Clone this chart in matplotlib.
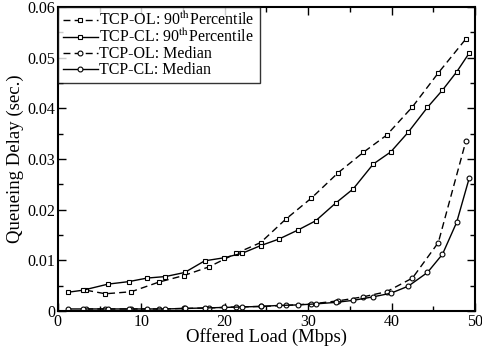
import matplotlib
matplotlib.use("Agg")
import matplotlib.pyplot as plt
from matplotlib.ticker import MultipleLocator, FuncFormatter

plt.rcParams['font.family'] = ['Liberation Serif', 'DejaVu Serif']
plt.rcParams['mathtext.fontset'] = 'stix'

# TCP-OL x positions
x_ol = [3.4, 5.7, 8.8, 12.1, 15.1, 18.1, 21.4, 24.3, 27.3, 30.4, 33.6, 36.6, 39.4, 42.5, 45.6, 48.9]
ol_90 = [0.0041, 0.0034, 0.0038, 0.0057, 0.0070, 0.0087, 0.0114, 0.0135, 0.0181, 0.0223, 0.0273, 0.0313, 0.0347, 0.0403, 0.0470, 0.0537]
ol_med = [0.0004, 0.0004, 0.0004, 0.0004, 0.0005, 0.0006, 0.0008, 0.0009, 0.0011, 0.0014, 0.0020, 0.0028, 0.0038, 0.0065, 0.0135, 0.0335]

# TCP-CL x positions
x_cl = [1.2, 3.0, 6.0, 8.5, 10.7, 12.9, 15.2, 17.6, 19.9, 22.1, 24.3, 26.5, 28.8, 30.9, 33.3, 35.4, 37.8, 39.9, 42.0, 44.3, 46.1, 47.8, 49.3]
cl_90 = [0.0037, 0.0041, 0.0053, 0.0058, 0.0065, 0.0068, 0.0076, 0.0099, 0.0105, 0.0114, 0.0129, 0.0142, 0.0160, 0.0178, 0.0213, 0.0241, 0.0290, 0.0314, 0.0353, 0.0402, 0.0436, 0.0472, 0.0509]
cl_med = [0.0004, 0.0004, 0.0004, 0.0004, 0.0004, 0.0004, 0.0005, 0.0006, 0.0007, 0.0008, 0.0009, 0.0011, 0.0012, 0.0014, 0.0017, 0.0021, 0.0028, 0.0035, 0.0049, 0.0076, 0.0112, 0.0175, 0.0262]

labels = [r"TCP-OL: 90$^{\rm th}$Percentile", r"TCP-CL: 90$^{\rm th}$Percentile",
          "TCP-OL: Median", "TCP-CL: Median"]

fig = plt.figure(figsize=(4.82, 3.53), dpi=100)
ax = fig.add_axes([0.120, 0.119, 0.8655, 0.861])

mk = dict(markersize=3.5, markerfacecolor='white', markeredgecolor='black', markeredgewidth=0.8, color='black', linewidth=1.0)
ax.plot(x_ol, ol_90, linestyle=(0, (5, 3)), marker='s', label=labels[0], **mk)
ax.plot(x_cl, cl_90, linestyle='-', marker='s', label=labels[1], **mk)
ax.plot(x_ol, ol_med, linestyle=(0, (5, 3)), marker='o', label=labels[2], **mk)
ax.plot(x_cl, cl_med, linestyle='-', marker='o', label=labels[3], **mk)

ax.set_xlim(0, 50)
ax.set_ylim(0, 0.06)
ax.xaxis.set_major_locator(MultipleLocator(10))
ax.xaxis.set_minor_locator(MultipleLocator(5))
ax.yaxis.set_major_locator(MultipleLocator(0.01))
ax.yaxis.set_minor_locator(MultipleLocator(0.005))
ax.yaxis.set_major_formatter(FuncFormatter(lambda v, p: "0" if abs(v) < 1e-12 else f"{v:.2f}"))
ax.tick_params(which='both', direction='in', top=True, right=True, labelsize=11.5, width=1.0)
ax.tick_params(which='major', length=6, pad=2)
ax.tick_params(which='minor', length=3.5)
for s in ax.spines.values():
    s.set_linewidth(1.5)

ax.set_xlabel("Offered Load (Mbps)", fontsize=13.5, labelpad=-1)
ax.set_ylabel("Queueing Delay (sec.)", fontsize=13.5, labelpad=2)

leg = ax.legend(loc='upper left', fontsize=11.5, frameon=True, fancybox=False,
                edgecolor='black', borderaxespad=0, handlelength=2.2, handletextpad=0.1,
                labelspacing=0.0, borderpad=0.3)
leg.get_frame().set_linewidth(1.0)

fig.savefig("out.png", dpi=100)
